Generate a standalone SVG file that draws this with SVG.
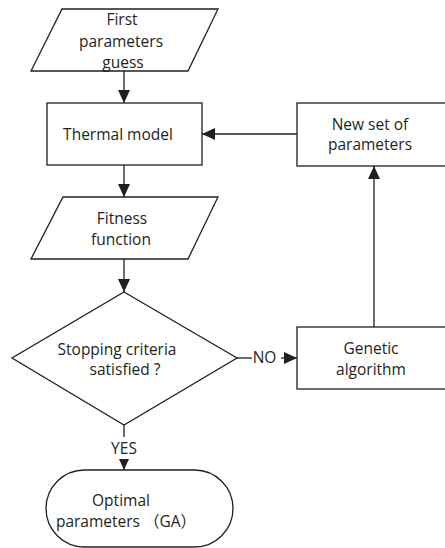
<svg xmlns="http://www.w3.org/2000/svg" width="445" height="548" viewBox="0 0 445 548">
  <style>
    .shape { fill: #ffffff; stroke: #231f20; stroke-width: 1.3; }
    .link { fill: none; stroke: #231f20; stroke-width: 1.3; }
    text { font-family: "Open Sans", "Noto Sans", "Noto Sans CJK SC", sans-serif; font-size: 15.5px; fill: #231f20; text-anchor: middle; }
  </style>
  <defs>
    <marker id="arrow" markerUnits="userSpaceOnUse" markerWidth="13" markerHeight="12" refX="13" refY="6" orient="auto">
      <path d="M0,0 L13,6 L0,12 Z" fill="#231f20"/>
    </marker>
    <marker id="arrow-small" markerUnits="userSpaceOnUse" markerWidth="11" markerHeight="10" refX="11" refY="5" orient="auto">
      <path d="M0,0 L11,5 L0,10 Z" fill="#231f20"/>
    </marker>
  </defs>

  <rect width="445" height="548" fill="#ffffff"/>

  <g id="connectors">
    <line class="link" x1="124" y1="71" x2="124" y2="103" marker-end="url(#arrow)"/>
    <line class="link" x1="124" y1="165" x2="124" y2="197" marker-end="url(#arrow)"/>
    <line class="link" x1="124" y1="259" x2="124" y2="292" marker-end="url(#arrow)"/>
    <line class="link" x1="297" y1="134" x2="202" y2="134" marker-end="url(#arrow)"/>
    <line class="link" x1="374" y1="327" x2="374" y2="166" marker-end="url(#arrow)"/>
    <line class="link" x1="237" y1="358" x2="252" y2="358"/>
    <line class="link" x1="281" y1="358" x2="297" y2="358" marker-end="url(#arrow)"/>
    <text x="264.5" y="363">NO</text>
    <line class="link" x1="124" y1="425" x2="124" y2="437"/>
    <line class="link" x1="124" y1="459" x2="124" y2="470" marker-end="url(#arrow-small)"/>
    <text x="124" y="454">YES</text>
  </g>

  <g id="first-guess">
    <polygon class="shape" points="62,9 218,9 188,71 31,71"/>
    <text x="122" y="25">First</text>
    <text x="121" y="47">parameters</text>
    <text x="123" y="68">guess</text>
  </g>

  <g id="thermal-model">
    <rect class="shape" x="47" y="103" width="155" height="62"/>
    <text x="118" y="140">Thermal model</text>
  </g>

  <g id="fitness">
    <polygon class="shape" points="63,197 218,197 188,259 31,259"/>
    <text x="122" y="224">Fitness</text>
    <text x="121" y="245">function</text>
  </g>

  <g id="stopping">
    <polygon class="shape" points="124,292 237,358 124,425 12,358"/>
    <text x="117" y="355">Stopping criteria</text>
    <text x="125" y="375">satisfied ?</text>
  </g>

  <g id="optimal">
    <rect class="shape" x="46" y="470" width="187" height="77" rx="38.5" ry="38.5"/>
    <text x="121" y="506">Optimal</text>
    <text x="126" y="527">parameters （GA）</text>
  </g>

  <g id="new-set">
    <rect class="shape" x="297" y="103" width="160" height="63"/>
    <text x="370" y="130">New set of</text>
    <text x="370" y="150">parameters</text>
  </g>

  <g id="genetic">
    <rect class="shape" x="297" y="327" width="160" height="62"/>
    <text x="371" y="354">Genetic</text>
    <text x="371" y="375">algorithm</text>
  </g>
</svg>
